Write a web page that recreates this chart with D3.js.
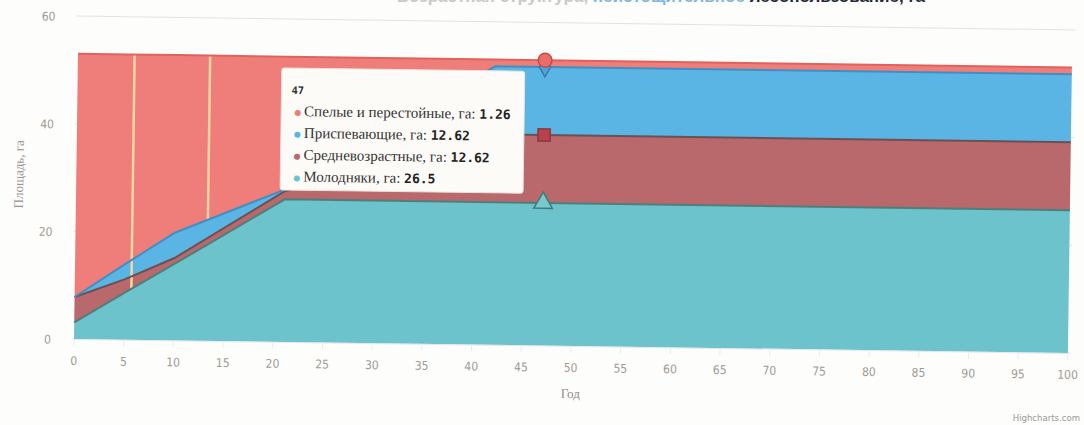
<!DOCTYPE html>
<html><head><meta charset="utf-8">
<script src="https://cdn.jsdelivr.net/npm/d3@7/dist/d3.min.js"></script>
<style>
html,body{margin:0;padding:0;background:#fdfdfb;}
svg{display:block;}
</style></head>
<body>
<svg id="chart" width="1084" height="425"></svg>
<script>
// ---- data ----
const years      = [0, 5, 10, 21, 42, 47, 100];
const young      = [3.1, 8.7, 14.2, 26.5, 26.5, 26.5, 26.5];      // Молодняки
const middle     = [4.7, 2.5, 1.1, 1.5, 12.62, 12.62, 12.62];     // Средневозрастные
const premature  = [0, 2.8, 4.7, 0.3, 12.62, 12.62, 12.62];       // Приспевающие
const mature     = [45.2, 39.0, 33.0, 24.7, 1.26, 1.26, 1.26];    // Спелые и перестойные
const seriesNames = ["Молодняки, га", "Средневозрастные, га", "Приспевающие, га", "Спелые и перестойные, га"];
const xTicks = [0,5,10,15,20,25,30,35,40,45,50,55,60,65,70,75,80,85,90,95,100];
const yTicks = [0,20,40,60];
const tooltipYear = 47;
const plotLineYears = [5.7, 13.3];

const fills   = ["#6cc3cc", "#b9686c", "#5ab5e4", "#ef7e7a"];
const strokes = ["#4f7f7c", "#6b5153", "#3f8fc4", "#e0625c"];
const markerFill   = ["#78c8cc", "#b8414c", "#4aa6dc", "#ea6e68"];
const markerStroke = ["#3d7b7b", "#8a3a40", "#3a78a5", "#c44c4c"];

const svg = d3.select("#chart");
const x = d3.scaleLinear().domain([0,100]).range([74,1068]);
const y = d3.scaleLinear().domain([0,60]).range([339,16]);

// title (cut off at top of photo, as in the reference)
const title = svg.append("text").attr("x", 925).attr("y", 2).attr("text-anchor","end")
  .attr("font-family","'Liberation Sans', Arial, sans-serif").attr("font-weight","bold").attr("font-size",17);
title.append("tspan").attr("fill","#c9c9c9").text("Возрастная структура, ");
title.append("tspan").attr("fill","#7bb7df").text("неистощительное ");
title.append("tspan").attr("fill","#1f2a3a").text("лесопользование, га");

const g = svg.append("g").attr("transform","rotate(0.8,74,339)");

// gridlines
g.append("g").selectAll("line").data(yTicks).join("line")
  .attr("x1", x(0)-2).attr("x2", x(100)+3).attr("y1", d=>y(d)).attr("y2", d=>y(d))
  .attr("stroke","#e2e2e2").attr("stroke-width",1);

// stacked data
const table = years.map((yr,i)=>({year:yr, s0:young[i], s1:middle[i], s2:premature[i], s3:mature[i]}));
const stack = d3.stack().keys(["s0","s1","s2","s3"])(table);

const area = d3.area().x(d=>x(d.data.year)).y0(d=>y(d[0])).y1(d=>y(d[1]));
const line = d3.line().x(d=>x(d.data.year)).y(d=>y(d[1]));

g.append("g").selectAll("path").data(stack).join("path")
  .attr("d", area).attr("fill",(d,i)=>fills[i]);

// plot lines (pale vertical streaks)
function interp(arr, xv){
  for(let i=0;i<years.length-1;i++){
    if(xv>=years[i] && xv<=years[i+1]){
      const t=(xv-years[i])/(years[i+1]-years[i]);
      return arr[i]+(arr[i+1]-arr[i])*t;
    }
  }
  return arr[arr.length-1];
}
const totals = years.map((_,i)=>young[i]+middle[i]+premature[i]+mature[i]);
const bottomArr = [young, years.map((_,i)=>young[i]+middle[i]+premature[i])];
g.append("g").selectAll("line").data(plotLineYears).join("line")
  .attr("x1", d=>x(d)).attr("x2", d=>x(d))
  .attr("y1", d=>y(interp(totals,d)))
  .attr("y2", (d,i)=>y(interp(bottomArr[i],d)))
  .attr("stroke","#f4d6a6").attr("stroke-width",2.5);

g.append("g").selectAll("path").data(stack).join("path")
  .attr("d", line).attr("fill","none").attr("stroke",(d,i)=>strokes[i]).attr("stroke-width",2);

// x axis line + ticks
g.append("line").attr("x1",x(0)).attr("x2",x(100)).attr("y1",y(0)+0.5).attr("y2",y(0)+0.5)
  .attr("stroke","#e4e8ee").attr("stroke-width",1);
g.append("g").selectAll("line").data(xTicks).join("line")
  .attr("x1",d=>x(d)).attr("x2",d=>x(d)).attr("y1",y(0)+1).attr("y2",y(0)+7)
  .attr("stroke","#ececec").attr("stroke-width",1);

// axis labels
g.append("g").selectAll("text").data(xTicks).join("text")
  .attr("x",d=>x(d)).attr("y",y(0)+26).attr("text-anchor","middle")
  .attr("font-family","'DejaVu Sans Condensed','Liberation Sans Narrow',sans-serif").attr("font-size",12)
  .attr("fill","#a09a94").text(d=>d);
g.append("g").selectAll("text").data(yTicks).join("text")
  .attr("x",51).attr("y",d=>y(d)+5).attr("text-anchor","end")
  .attr("font-family","'DejaVu Sans Condensed','Liberation Sans Narrow',sans-serif").attr("font-size",12)
  .attr("fill","#a09a94").text(d=>d);
g.append("text").attr("x",(x(0)+x(100))/2).attr("y",y(0)+52).attr("text-anchor","middle")
  .attr("font-family","'Liberation Serif',serif").attr("font-size",13).attr("fill","#8f8a86").text("Год");
g.append("text").attr("transform","translate(21,175) rotate(-90)").attr("text-anchor","middle")
  .attr("font-family","'Liberation Serif',serif").attr("font-size",13).attr("fill","#9a9490").text("Площадь, га");

// hover markers at tooltip year
const ti = years.indexOf(tooltipYear);
const mx = x(tooltipYear);
const symTypes = [d3.symbolTriangle, d3.symbolSquare, d3.symbolDiamond, d3.symbolCircle];
const symSizes = [150, 150, 110, 150];
g.append("g").selectAll("path").data(stack).join("path")
  .attr("transform", d=>`translate(${mx},${y(d[ti][1])})`)
  .attr("d",(d,i)=>d3.symbol().type(symTypes[i]).size(symSizes[i])())
  .attr("fill",(d,i)=>markerFill[i]).attr("stroke",(d,i)=>markerStroke[i]).attr("stroke-width",1.5);

// tooltip
const tt = g.append("g").attr("transform","translate(278,65)");
tt.append("rect").attr("width",243).attr("height",122).attr("rx",3)
  .attr("fill","#fdfbf7").attr("stroke","#e9e2da").attr("stroke-width",1);
tt.append("text").attr("x",10).attr("y",26).attr("font-family","'DejaVu Sans Mono',monospace")
  .attr("font-size",10.5).attr("font-weight","bold").attr("fill","#333").text(tooltipYear);
const ttRows = [3,2,1,0];
const ttValues = [young[ti], middle[ti], premature[ti], mature[ti]];
ttRows.forEach((s,k)=>{
  const t = tt.append("text").attr("x",13).attr("y",48+k*21.8);
  t.append("tspan").attr("fill",fills[s]).attr("font-size",8).attr("dy",-1).attr("font-family","'DejaVu Sans',sans-serif").text("●");
  t.append("tspan").attr("fill","#333").attr("font-size",15).attr("dy",1).attr("dx",3).attr("font-family","'Liberation Serif',serif").text(seriesNames[s]+": ");
  t.append("tspan").attr("fill","#222").attr("font-size",13).attr("font-weight","bold")
    .attr("font-family","'DejaVu Sans Mono',monospace").text(ttValues[s]);
});

// credit
svg.append("text").attr("x",1080).attr("y",421).attr("text-anchor","end")
  .attr("font-family","'DejaVu Sans Condensed','Liberation Sans Narrow',sans-serif").attr("font-size",9.5)
  .attr("fill","#9a9a9a").text("Highcharts.com");
</script>
</body></html>
